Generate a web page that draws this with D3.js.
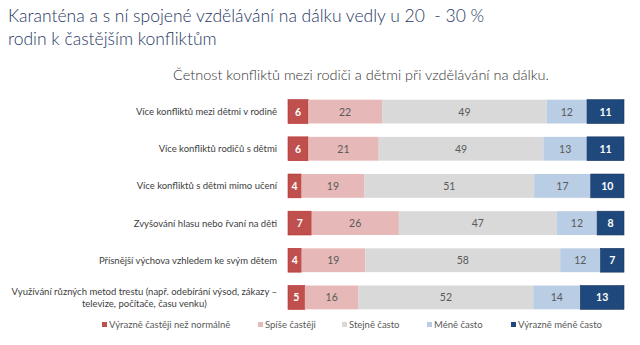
<!DOCTYPE html>
<html><head><meta charset="utf-8">
<script src="https://cdn.jsdelivr.net/npm/d3@7"></script>
<style>
body{margin:0;background:#fff;}
svg{display:block;font-family:Lato,"Open Sans",sans-serif;}
text{white-space:pre;}
</style></head>
<body><svg id="c" width="640" height="345"></svg>
<script>
const categories = [
  ["Více konfliktů mezi dětmi v rodině"],
  ["Více konfliktů rodičů s dětmi"],
  ["Více konfliktů s dětmi mimo učení"],
  ["Zvyšování hlasu nebo řvaní na děti"],
  ["Přísnější výchova vzhledem ke svým dětem"],
  ["Využívání různých metod trestu (např. odebírání výsod, zákazy –", "televize, počítače, času venku)"]
];
const seriesNames = ["Výrazně častěji než normálně","Spíše častěji","Stejně často","Méně často","Výrazně méně často"];
const vyrazneCasteji = [6,6,4,7,4,5];
const spiseCasteji   = [22,21,19,26,19,16];
const stejneCasto    = [49,49,51,47,58,52];
const meneCasto      = [12,13,17,12,12,14];
const vyrazneMene    = [11,11,10,8,7,13];
const series = [vyrazneCasteji, spiseCasteji, stejneCasto, meneCasto, vyrazneMene];
const colors = ["#c0504d","#e6b9b8","#d9d9d9","#b9cde5","#1f497d"];
const labelColors = ["#ffffff","#595959","#595959","#595959","#ffffff"];

const svg = d3.select("#c");
// title
const title = svg.append("text").attr("x",8).attr("fill","#1f3864").attr("font-size",17.5).attr("font-weight",300);
title.append("tspan").attr("x",8).attr("y",22).text("Karanténa a s ní spojené vzdělávání na dálku vedly u 20  - 30 %");
title.append("tspan").attr("x",8).attr("y",45).text("rodin k častějším konfliktům");

svg.append("text").attr("x",361).attr("y",80).attr("text-anchor","middle")
  .attr("fill","#333333").attr("font-size",14.5).attr("font-weight",300)
  .text("Četnost konfliktů mezi rodiči a dětmi při vzdělávání na dálku.");

const x = d3.scaleLinear().domain([0,1]).range([288,624]);
const y = d3.scaleBand().domain(d3.range(categories.length)).range([93,316]).paddingInner(0.36).paddingOuter(0.18);

const totals = categories.map((c,i)=>d3.sum(series,s=>s[i]));
const stackData = categories.map((c,i)=>{const o={i}; series.forEach((s,k)=>o[k]=s[i]/totals[i]); return o;});
const stacked = d3.stack().keys(d3.range(series.length))(stackData);

const g = svg.append("g");
stacked.forEach((layer,k)=>{
  const lg = g.append("g");
  lg.selectAll("rect").data(layer).join("rect")
    .attr("x",d=>x(d[0])).attr("y",(d,i)=>y(i))
    .attr("width",d=>x(d[1])-x(d[0])).attr("height",y.bandwidth())
    .attr("fill",colors[k]).attr("stroke", k===0?"#b52a2a":(k===4?"#17365d":"none")).attr("stroke-width",0.6);
  lg.selectAll("text").data(layer).join("text")
    .attr("x",d=>(x(d[0])+x(d[1]))/2).attr("y",(d,i)=>y(i)+y.bandwidth()/2+4)
    .attr("text-anchor","middle").attr("font-size",10.5)
    .attr("font-weight",(k===0||k===4)?"bold":"normal")
    .attr("fill",labelColors[k]).text((d,i)=>series[k][i]);
});

// category labels
categories.forEach((lines,i)=>{
  const cy = y(i)+y.bandwidth()/2;
  if(lines.length===1){
    svg.append("text").attr("x",277).attr("y",cy+3.5).attr("text-anchor","end")
      .attr("font-size",9.5).attr("fill","#404040").text(lines[0]);
  } else {
    const t = svg.append("text").attr("font-size",9.5).attr("fill","#404040").attr("text-anchor","middle");
    const t1 = t.append("tspan").attr("y",cy-2.5).text(lines[0]);
    const w = t1.node().getComputedTextLength();
    const cx = 277 - w/2;
    t1.attr("x",cx);
    t.append("tspan").attr("x",cx).attr("y",cy+9.5).text(lines[1]);
  }
});

// legend
const legendX = [102,258,342,427,511];
seriesNames.forEach((n,k)=>{
  svg.append("rect").attr("x",legendX[k]).attr("y",322).attr("width",5).attr("height",5).attr("fill",colors[k]);
  svg.append("text").attr("x",legendX[k]+7).attr("y",328).attr("font-size",9.5).attr("fill","#595959").text(n);
});
</script></body></html>
